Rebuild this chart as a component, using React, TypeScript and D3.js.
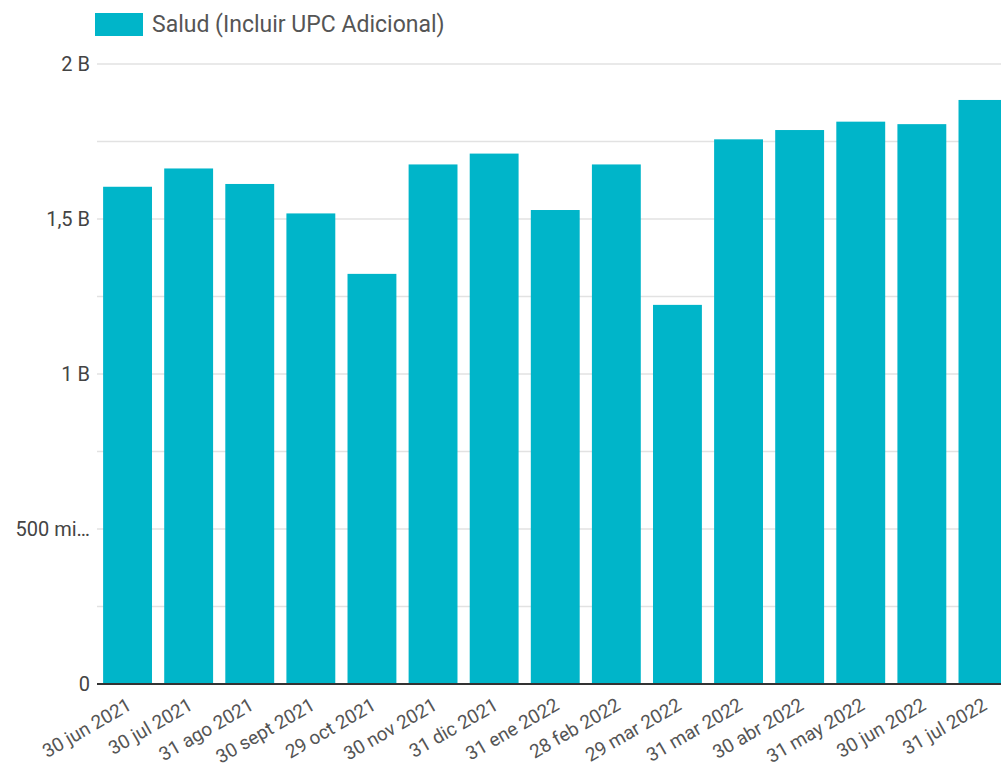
import * as d3 from 'd3';

const categories = [
  '30 jun 2021', '30 jul 2021', '31 ago 2021', '30 sept 2021', '29 oct 2021',
  '30 nov 2021', '31 dic 2021', '31 ene 2022', '28 feb 2022', '29 mar 2022',
  '31 mar 2022', '30 abr 2022', '31 may 2022', '30 jun 2022', '31 jul 2022',
];

// Salud (Incluir UPC Adicional), in units
const saludValues = [
  1.604e9, 1.663e9, 1.613e9, 1.518e9, 1.323e9,
  1.676e9, 1.711e9, 1.529e9, 1.676e9, 1.223e9,
  1.757e9, 1.787e9, 1.814e9, 1.806e9, 1.884e9,
];

const seriesName = 'Salud (Incluir UPC Adicional)';
const gridValues = [0, 2.5e8, 5e8, 7.5e8, 1e9, 1.25e9, 1.5e9, 1.75e9, 2e9];
const tickValues = [0, 5e8, 1e9, 1.5e9, 2e9];
const tickLabels = ['0', '500 mi…', '1 B', '1,5 B', '2 B'];

const W = 1001;
const H = 769;
const FONT = 'Roboto, sans-serif';
const BAR = '#00b5c9';

export default function App() {
  const plotLeft = 97;
  const plotTop = 64;
  const plotBottom = 684;

  const x = d3.scaleBand<string>()
    .domain(categories)
    .range([plotLeft, plotLeft + 61.1 * categories.length])
    .paddingInner(0.2)
    .paddingOuter(0.1);

  const y = d3.scaleLinear()
    .domain([0, 2e9])
    .range([plotBottom, plotTop]);

  return (
    <div style={{ position: 'absolute', left: 0, top: 0, width: W, height: H, overflow: 'hidden', background: '#fff' }}>
      <svg width={W} height={H} style={{ display: 'block', fontFamily: FONT }}>
        {/* legend */}
        <rect x={95} y={13} width={48} height={23} fill={BAR} />
        <text x={152} y={32} fontSize={23} fill="#555">{seriesName}</text>

        {/* gridlines */}
        {gridValues.slice(1).map(v => (
          <line key={v} x1={plotLeft} x2={W} y1={y(v)} y2={y(v)} stroke="#e2e2e2" strokeWidth={1.5} />
        ))}

        {/* y labels */}
        {tickValues.map((v, i) => (
          <text key={v} x={90} y={y(v)} dy="0.35em" textAnchor="end" fontSize={20} fill="#444">
            {tickLabels[i]}
          </text>
        ))}

        {/* bars */}
        {categories.map((c, i) => (
          <rect
            key={c}
            x={x(c)}
            y={y(saludValues[i])}
            width={x.bandwidth()}
            height={y(0) - y(saludValues[i])}
            fill={BAR}
          />
        ))}

        {/* baseline */}
        <line x1={plotLeft} x2={W} y1={y(0)} y2={y(0)} stroke="#333" strokeWidth={2} />

        {/* x labels */}
        {categories.map(c => {
          const cx = (x(c) ?? 0) + x.bandwidth() / 2;
          return (
            <text
              key={c}
              transform={`translate(${cx + 2},${plotBottom + 19}) rotate(-30)`}
              textAnchor="end"
              dy="0.35em"
              fontSize={19}
              fill="#555"
            >
              {c}
            </text>
          );
        })}
      </svg>
    </div>
  );
}
